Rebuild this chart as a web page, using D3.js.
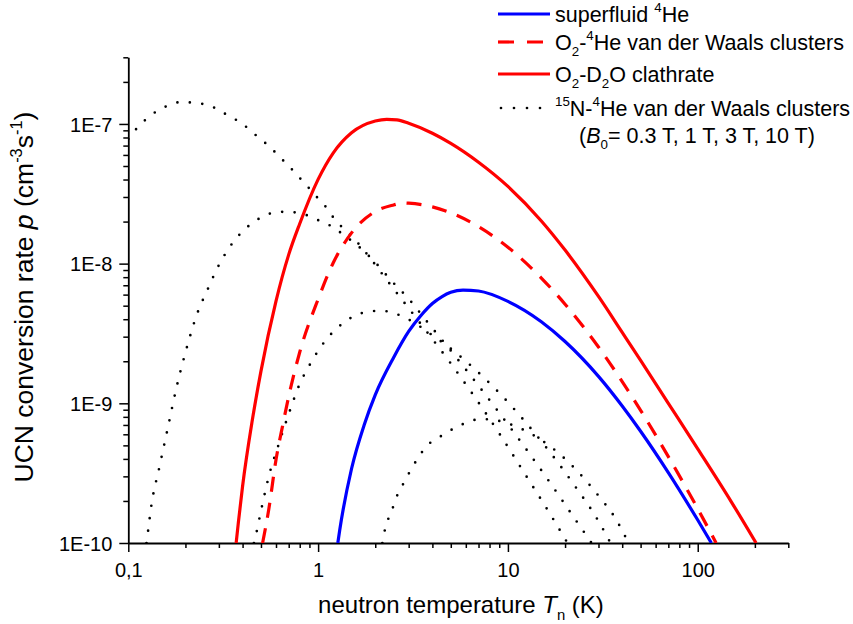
<!DOCTYPE html>
<html><head><meta charset="utf-8">
<script src="https://cdn.jsdelivr.net/npm/d3@7"></script>
<style>
html,body{margin:0;padding:0;background:#fff;}
svg{display:block;font-family:"Liberation Sans",Arial,sans-serif;}
</style></head>
<body>
<svg id="chart" width="853" height="624"></svg>
<script>
// ---- data ----
const superfluidT = [1.27, 1.3, 1.5, 1.75, 2, 2.5, 3, 3.5, 4, 4.5, 5, 5.8, 7, 10, 15, 20, 30, 40, 50, 70, 100, 118];
const superfluidP = [1e-10, 1.24e-10, 3.40e-10, 7.03e-10, 1.15e-9, 2.13e-9, 3.27e-9, 4.29e-9, 5.18e-9, 5.81e-9, 6.23e-9, 6.47e-9, 6.37e-9, 5.37e-9, 3.84e-9, 2.77e-9, 1.56e-9, 9.57e-10, 6.31e-10, 3.19e-10, 1.46e-10, 1e-10];

const o2HeT = [0.51, 0.55, 0.6, 0.65, 0.7, 0.8, 1, 1.2, 1.5, 2, 2.5, 2.8, 3, 4, 5, 7, 10, 15, 20, 30, 40, 50, 70, 100, 125];
const o2HeP = [1e-10, 1.75e-10, 3.95e-10, 6.90e-10, 1.12e-9, 2.32e-9, 5.56e-9, 1.01e-8, 1.66e-8, 2.36e-8, 2.63e-8, 2.72e-8, 2.71e-8, 2.55e-8, 2.31e-8, 1.84e-8, 1.31e-8, 7.89e-9, 5.12e-9, 2.53e-9, 1.43e-9, 8.91e-10, 4.15e-10, 1.76e-10, 1e-10];

const clathrateT = [0.37, 0.38, 0.4, 0.45, 0.5, 0.6, 0.7, 0.8, 1, 1.2, 1.5, 2, 2.3, 2.6, 3, 4, 5, 7, 10, 15, 20, 30, 40, 50, 70, 100, 150, 203];
const clathrateP = [1e-10, 1.40e-10, 2.55e-10, 7.55e-10, 1.70e-9, 5.39e-9, 1.16e-8, 1.93e-8, 4.01e-8, 6.19e-8, 8.65e-8, 1.05e-7, 1.08e-7, 1.07e-7, 1.01e-7, 8.58e-8, 7.26e-8, 5.32e-8, 3.57e-8, 2.02e-8, 1.25e-8, 5.82e-9, 3.22e-9, 2.03e-9, 1.00e-9, 4.72e-10, 1.98e-10, 1e-10];

const n15B03T = [0.1, 0.11, 0.124, 0.142, 0.166, 0.192, 0.224, 0.263, 0.304, 0.347, 0.397, 0.448, 0.506, 0.571, 0.636, 0.718, 0.801, 0.894, 0.984, 1.10, 1.21, 1.35, 1.52, 1.74, 2.39, 3.78, 4.93, 6.68, 9.04, 12.2, 16.6, 20.6];
const n15B03P = [7.80e-8, 9.19e-8, 1.08e-7, 1.24e-7, 1.37e-7, 1.44e-7, 1.41e-7, 1.37e-7, 1.24e-7, 1.12e-7, 1.01e-7, 8.75e-8, 7.67e-8, 6.61e-8, 5.70e-8, 4.83e-8, 4.10e-8, 3.48e-8, 3.00e-8, 2.54e-8, 2.12e-8, 1.80e-8, 1.55e-8, 1.25e-8, 7.14e-9, 3.19e-9, 1.98e-9, 1.11e-9, 6.03e-10, 3.17e-10, 1.63e-10, 1e-10];

const n15B1T = [0.1247, 0.127, 0.132, 0.146, 0.162, 0.179, 0.2005, 0.231, 0.26, 0.297, 0.348, 0.43, 0.497, 0.578, 0.666, 0.814, 0.915, 1.046, 1.195, 1.365, 1.561, 1.762, 1.988, 2.413, 3.038, 3.688, 4.93, 6.68, 9.04, 12.24, 16.58, 22.44, 27.6];
const n15B1P = [1e-10, 1.21e-10, 1.82e-10, 3.52e-10, 6.80e-10, 1.28e-9, 2.34e-9, 4.41e-9, 6.40e-9, 9.50e-9, 1.36e-8, 1.86e-8, 2.13e-8, 2.31e-8, 2.35e-8, 2.29e-8, 2.16e-8, 1.99e-8, 1.83e-8, 1.60e-8, 1.40e-8, 1.21e-8, 1.03e-8, 7.63e-9, 5.49e-9, 3.95e-9, 2.44e-9, 1.45e-9, 8.48e-10, 4.87e-10, 2.73e-10, 1.50e-10, 1e-10];

const n15B3T = [0.459, 0.468, 0.501, 0.555, 0.614, 0.707, 0.788, 0.912, 1.081, 1.349, 1.554, 1.826, 2.146, 2.524, 2.895, 3.348, 3.78, 4.93, 6.68, 9.04, 12.24, 16.58, 22.44, 30.4, 34.7];
const n15B3P = [1e-10, 1.11e-10, 1.72e-10, 3.15e-10, 4.89e-10, 8.71e-10, 1.31e-9, 1.93e-9, 2.76e-9, 3.74e-9, 4.22e-9, 4.53e-9, 4.60e-9, 4.41e-9, 4.08e-9, 3.64e-9, 3.24e-9, 2.50e-9, 1.76e-9, 1.18e-9, 7.47e-10, 4.50e-10, 2.58e-10, 1.39e-10, 1e-10];

const n15B10T = [2.18, 2.28, 2.42, 2.57, 2.73, 2.94, 3.15, 3.44, 3.78, 4.37, 5.24, 6.29, 7.10, 8.51, 10.2, 13.0, 16.6, 22.4, 30.4, 36.4, 43.2];
const n15B10P = [1e-10, 1.35e-10, 1.63e-10, 2.09e-10, 2.46e-10, 2.98e-10, 3.52e-10, 4.27e-10, 5.03e-10, 5.74e-10, 6.66e-10, 7.41e-10, 7.72e-10, 7.59e-10, 7.11e-10, 6.13e-10, 4.95e-10, 3.44e-10, 2.13e-10, 1.54e-10, 1e-10];

const xDomain = [0.1, 300];
const yDomain = [1e-10, 3e-7];
const xMajorTicks = [0.1, 1, 10, 100];
const xTickLabels = ["0,1", "1", "10", "100"];
const yMajorTicks = [1e-10, 1e-9, 1e-8, 1e-7];
const yTickLabels = ["1E-10", "1E-9", "1E-8", "1E-7"];

// ---- drawing ----
const svg = d3.select("#chart");
svg.append("rect").attr("width", 853).attr("height", 624).attr("fill", "#fff");

const x = d3.scaleLog().domain(xDomain).range([128.3, 788.3]);
const y = d3.scaleLog().domain(yDomain).range([543, 57.3]);

function minorTicks(domain) {
  const out = [];
  const lo = Math.floor(Math.log10(domain[0])), hi = Math.ceil(Math.log10(domain[1]));
  for (let e = lo; e <= hi; e++) for (let m = 1; m <= 9; m++) {
    const v = m * Math.pow(10, e);
    if (v >= domain[0] * 0.999 && v <= domain[1] * 1.001) out.push(+v.toPrecision(6));
  }
  return out;
}
const isMajor = (v, majors) => majors.some(m => Math.abs(v / m - 1) < 1e-6);

const TICKFONT = "20px";
const xAxis = d3.axisBottom(x).tickValues(minorTicks(xDomain)).tickSizeOuter(0)
  .tickFormat(v => { const i = xMajorTicks.findIndex(m => Math.abs(v / m - 1) < 1e-6); return i >= 0 ? xTickLabels[i] : ""; });
const gx = svg.append("g").attr("transform", `translate(0,${y(yDomain[0])})`).call(xAxis);
gx.selectAll(".tick line").attr("y2", d => isMajor(d, xMajorTicks) ? 9 : 5);
gx.selectAll(".tick text").attr("y", 34).attr("dy", 0).style("font-size", TICKFONT).attr("fill", "#000");

const yAxis = d3.axisLeft(y).tickValues(minorTicks(yDomain)).tickSizeOuter(0)
  .tickFormat(v => { const i = yMajorTicks.findIndex(m => Math.abs(v / m - 1) < 1e-6); return i >= 0 ? yTickLabels[i] : ""; });
const gy = svg.append("g").attr("transform", `translate(${x(xDomain[0])},0)`).call(yAxis);
gy.selectAll(".tick line").attr("x2", d => isMajor(d, yMajorTicks) ? -9 : -5);
gy.selectAll(".tick text").attr("x", -16).attr("dy", "0.36em").style("font-size", TICKFONT).attr("fill", "#000");

[gx, gy].forEach(g => {
  g.attr("font-family", null).attr("font-size", null);
  g.select(".domain").attr("stroke", "#000").attr("stroke-width", 1.8);
  g.selectAll(".tick line").attr("stroke", "#000").attr("stroke-width", 1.5);
});

// clip
svg.append("clipPath").attr("id", "plotclip").append("rect")
  .attr("x", x(xDomain[0])).attr("y", y(yDomain[1]))
  .attr("width", x(xDomain[1]) - x(xDomain[0])).attr("height", y(yDomain[0]) - y(yDomain[1]));

const line = d3.line().x(d => x(d[0])).y(d => y(d[1])).curve(d3.curveMonotoneX);
const zip = (a, b) => a.map((v, i) => [v, b[i]]);
const plot = svg.append("g").attr("clip-path", "url(#plotclip)");

const dotStyle = { stroke: "#000", width: 2.7, dash: "0,12.5", cap: "round" };
const series = [
  { T: n15B03T, P: n15B03P, ...dotStyle },
  { T: n15B1T, P: n15B1P, ...dotStyle },
  { T: n15B3T, P: n15B3P, ...dotStyle },
  { T: n15B10T, P: n15B10P, ...dotStyle },
  { T: clathrateT, P: clathrateP, stroke: "#ff0000", width: 3.2, dash: null, cap: "butt" },
  { T: o2HeT, P: o2HeP, stroke: "#ff0000", width: 3.2, dash: "15,11", cap: "butt" },
  { T: superfluidT, P: superfluidP, stroke: "#0000ff", width: 3.2, dash: null, cap: "butt" },
];
series.forEach(s => {
  plot.append("path").datum(zip(s.T, s.P)).attr("d", line)
    .attr("fill", "none").attr("stroke", s.stroke).attr("stroke-width", s.width)
    .attr("stroke-dasharray", s.dash).attr("stroke-linecap", s.cap).attr("stroke-linejoin", "round");
});

// rich text helper
function rich(sel, parts, base) {
  let shift = 0;
  parts.forEach(p => {
    const t = sel.append("tspan").text(p.t);
    let target = 0;
    if (p.s === "sup") target = -0.42 * base;
    if (p.s === "sub") target = 0.3 * base;
    t.attr("dy", target - shift);
    shift = target;
    if (p.s) t.style("font-size", (base * 0.62) + "px");
    if (p.i) t.style("font-style", "italic");
  });
}

// axis titles
const TITLE = 24;
const xt = svg.append("text").attr("x", 461).attr("y", 613).attr("text-anchor", "middle").style("font-size", TITLE + "px");
rich(xt, [{ t: "neutron temperature " }, { t: "T", i: 1 }, { t: "n", s: "sub" }, { t: " (K)" }], TITLE);
const YTITLE = 26.5;
const yt = svg.append("text").attr("transform", "translate(33,297) rotate(-90)").attr("text-anchor", "middle").style("font-size", YTITLE + "px");
rich(yt, [{ t: "UCN conversion rate " }, { t: "p", i: 1 }, { t: " (cm" }, { t: "-3", s: "sup" }, { t: "s" }, { t: "-1", s: "sup" }, { t: ")" }], YTITLE);

// legend
const LEG = 21.5;
const legend = [
  { y: 14, stroke: "#0000ff", dash: null, cap: "butt", w: 3.2, parts: [{ t: "superfluid " }, { t: "4", s: "sup" }, { t: "He" }] },
  { y: 42, stroke: "#ff0000", dash: "16,13", cap: "butt", w: 3.2, parts: [{ t: "O" }, { t: "2", s: "sub" }, { t: "-" }, { t: "4", s: "sup" }, { t: "He van der Waals clusters" }] },
  { y: 74, stroke: "#ff0000", dash: null, cap: "butt", w: 3.2, parts: [{ t: "O" }, { t: "2", s: "sub" }, { t: "-D" }, { t: "2", s: "sub" }, { t: "O clathrate" }] },
  { y: 108, stroke: "#000", dash: "0,13", cap: "round", w: 2.7, parts: [{ t: "15", s: "sup" }, { t: "N-" }, { t: "4", s: "sup" }, { t: "He van der Waals clusters" }] },
];
const lg = svg.append("g");
legend.forEach(d => {
  lg.append("line").attr("x1", d.cap === "round" ? 501 : 498).attr("x2", 550).attr("y1", d.y).attr("y2", d.y)
    .attr("stroke", d.stroke).attr("stroke-width", d.w).attr("stroke-dasharray", d.dash).attr("stroke-linecap", d.cap);
  const t = lg.append("text").attr("x", 555).attr("y", d.y + 7.5).style("font-size", LEG + "px");
  rich(t, d.parts, LEG);
});
const l5 = lg.append("text").attr("x", 579).attr("y", 143).style("font-size", LEG + "px");
rich(l5, [{ t: "(" }, { t: "B", i: 1 }, { t: "0", s: "sub" }, { t: "= 0.3 T, 1 T, 3 T, 10 T)" }], LEG);
</script>
</body></html>
